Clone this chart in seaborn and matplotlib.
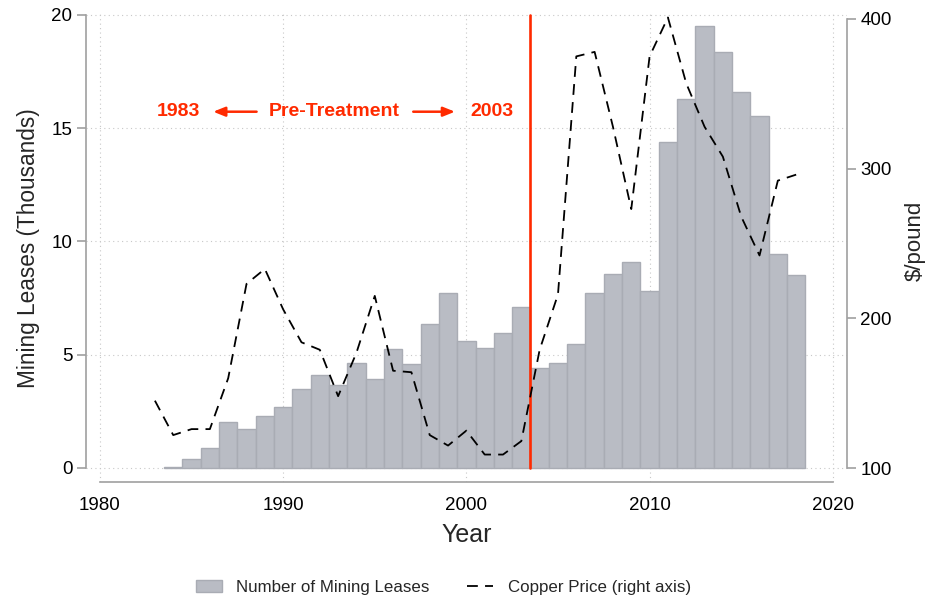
import numpy as np
import pandas as pd
import matplotlib
matplotlib.use("Agg")
import matplotlib.pyplot as plt
import seaborn as sns
from matplotlib.patches import Patch
from matplotlib.lines import Line2D

# Данные
lease_years = list(range(1984, 2019))
leases = [0.05, 0.38, 0.87, 2.05, 1.72, 2.28, 2.68, 3.47, 4.12, 3.65, 4.62, 3.94,
          5.27, 4.57, 6.34, 7.72, 5.59, 5.31, 5.97, 7.11, 4.40, 4.62, 5.46, 7.72,
          8.55, 9.11, 7.80, 14.38, 16.26, 19.50, 18.37, 16.59, 15.55, 9.45, 8.53]

copper_years = list(range(1983, 2019))
copper = [145, 122, 126, 126, 160, 223, 233, 206, 184, 179, 148, 177,
          215, 165, 164, 122, 115, 125, 109, 109, 118, 179, 216, 375,
          378, 328, 273, 375, 401, 357, 328, 308, 268, 242, 292, 296]

treatment_year = 2003.45
x_ticks = [1980, 1990, 2000, 2010, 2020]
left_ticks = [0, 5, 10, 15, 20]
right_ticks = [100, 200, 300, 400]

df_leases = pd.DataFrame({"Год": lease_years, "Аренды": leases})
df_copper = pd.DataFrame({"Год": copper_years, "Цена": copper})

sns.set_style("white")
plt.rcParams["font.family"] = ["Liberation Sans", "DejaVu Sans"]

bar_color = "#b9bcc4"
edge_color = "#a9acb4"
red = "#ff2a00"
axis_gray = "#a0a0a0"
tick_size = 13.5

fig = plt.figure(figsize=(9.27, 6.02), dpi=100)
ax = fig.add_axes([0.0924, 0.1993, 0.8216, 0.7774])

sns.barplot(data=df_leases, x="Год", y="Аренды", native_scale=True, width=1,
            color=bar_color, saturation=1, edgecolor=edge_color, linewidth=1,
            ax=ax, zorder=2)

ax.plot([treatment_year, treatment_year], [0, 20], color=red, lw=1.9, zorder=3)

ax.set_xlim(1979.22, 2020.79)
ax.set_ylim(-0.62, 20.03)
ax.set_xticks(x_ticks)
ax.set_yticks(left_ticks)
ax.set_axisbelow(True)
ax.grid(True, ls=(0, (1, 3)), color="#c8c8c8", lw=0.8)

for s in ["top", "right"]:
    ax.spines[s].set_visible(False)
ax.spines["left"].set_bounds(0, 20)
ax.spines["bottom"].set_bounds(1980, 2020)
for s in ["left", "bottom"]:
    ax.spines[s].set_color(axis_gray)
    ax.spines[s].set_linewidth(1.2)
ax.tick_params(axis="both", colors=axis_gray, labelcolor="black", labelsize=tick_size,
               length=6.5, width=1.2)
ax.tick_params(axis="x", pad=4)
ax.tick_params(axis="y", pad=3)
ax.set_xlabel("Year", fontsize=18, labelpad=7)
ax.set_ylabel("Mining Leases (Thousands)", fontsize=16.3, labelpad=8)

# Правая ось: цена меди
ax2 = ax.twinx()
sns.lineplot(data=df_copper, x="Год", y="Цена", color="black", lw=1.3,
             ax=ax2, zorder=4)
ax2.lines[0].set_dashes((6, 4))
ax2.set_ylim(90.65, 403.3)
ax2.set_yticks(right_ticks)
ax2.set_xlim(1979.22, 2020.79)
for s in ["top", "left", "bottom"]:
    ax2.spines[s].set_visible(False)
ax2.spines["right"].set_bounds(100, 400)
ax2.spines["right"].set_color(axis_gray)
ax2.spines["right"].set_linewidth(1.2)
ax2.tick_params(axis="y", colors=axis_gray, labelcolor="black", labelsize=tick_size,
                length=6.5, width=1.2, pad=3)
ax2.set_ylabel("$/pound", fontsize=16, labelpad=9)
ax2.yaxis.label.set_y(0.515)
ax2.set_xlabel("")

# Аннотация периода до воздействия
y_ann = 15.72
ann_kw = dict(color=red, fontsize=14, fontweight="bold", ha="center", va="center")
ax.text(1984.26, y_ann, "1983", **ann_kw)
ax.text(1992.81, y_ann, "Pre-Treatment", **ann_kw)
ax.text(2001.38, y_ann, "2003", **ann_kw)
arrow_kw = dict(arrowstyle="-|>,head_length=0.7,head_width=0.28", color=red, lw=1.8,
                shrinkA=0, shrinkB=0)
ax.annotate("", xy=(1986.18, y_ann), xytext=(1988.55, y_ann), arrowprops=arrow_kw)
ax.annotate("", xy=(1999.38, y_ann), xytext=(1997.10, y_ann), arrowprops=arrow_kw)

handles = [Patch(facecolor=bar_color, edgecolor=edge_color, label="Number of Mining Leases"),
           Line2D([0], [0], color="black", lw=1.3, dashes=(6, 4),
                  label="Copper Price (right axis)")]
fig.legend(handles=handles, loc="center", bbox_to_anchor=(0.478, 0.024), ncol=2,
           frameon=False, fontsize=12.2, handlelength=1.55, columnspacing=2.2,
           handletextpad=0.85)

fig.savefig("out.png", dpi=100)
